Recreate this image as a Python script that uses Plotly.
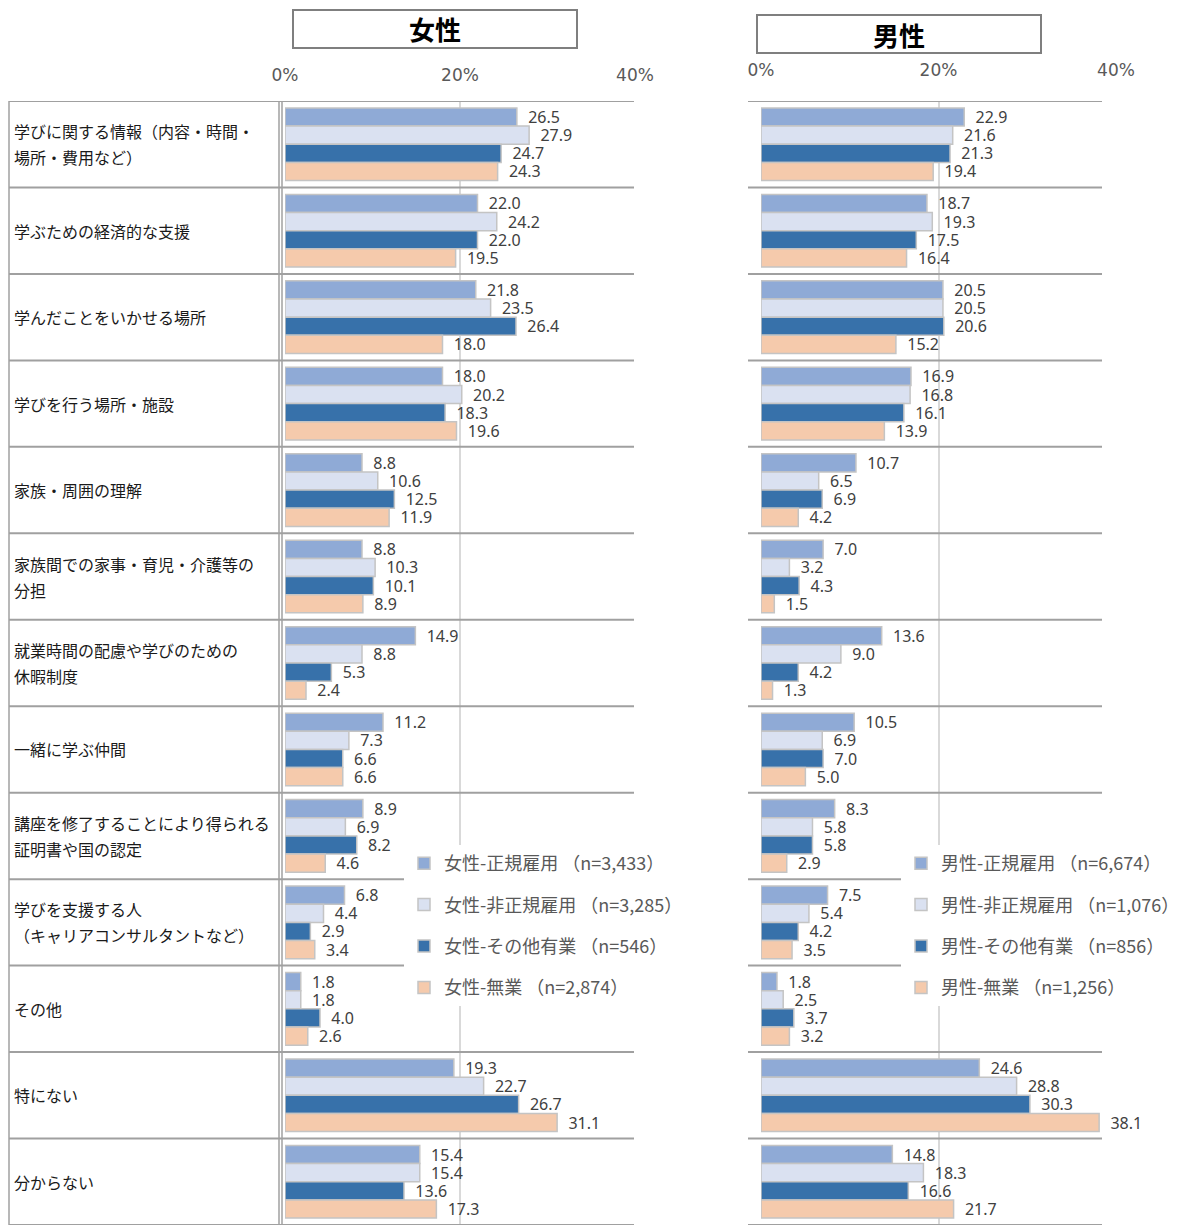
import plotly.graph_objects as go

# The page has an 8px body margin; the figure is sized to fill the rest of the window
OFF = 8
W, H = 1191 - OFF, 1225 - OFF


def px(x):
    return (x - OFF) / W


def py(y):
    return 1 - (y - OFF) / H


categories = [
    "学びに関する情報（内容・時間・\n場所・費用など）",
    "学ぶための経済的な支援",
    "学んだことをいかせる場所",
    "学びを行う場所・施設",
    "家族・周囲の理解",
    "家族間での家事・育児・介護等の\n分担",
    "就業時間の配慮や学びのための\n休暇制度",
    "一緒に学ぶ仲間",
    "講座を修了することにより得られる\n証明書や国の認定",
    "学びを支援する人\n（キャリアコンサルタントなど）",
    "その他",
    "特にない",
    "分からない",
]

female_names = [
    "女性-正規雇用 （n=3,433）",
    "女性-非正規雇用 （n=3,285）",
    "女性-その他有業 （n=546）",
    "女性-無業 （n=2,874）",
]
male_names = [
    "男性-正規雇用 （n=6,674）",
    "男性-非正規雇用 （n=1,076）",
    "男性-その他有業 （n=856）",
    "男性-無業 （n=1,256）",
]

female_regular = [26.5, 22.0, 21.8, 18.0, 8.8, 8.8, 14.9, 11.2, 8.9, 6.8, 1.8, 19.3, 15.4]
female_nonregular = [27.9, 24.2, 23.5, 20.2, 10.6, 10.3, 8.8, 7.3, 6.9, 4.4, 1.8, 22.7, 15.4]
female_other = [24.7, 22.0, 26.4, 18.3, 12.5, 10.1, 5.3, 6.6, 8.2, 2.9, 4.0, 26.7, 13.6]
female_none = [24.3, 19.5, 18.0, 19.6, 11.9, 8.9, 2.4, 6.6, 4.6, 3.4, 2.6, 31.1, 17.3]

male_regular = [22.9, 18.7, 20.5, 16.9, 10.7, 7.0, 13.6, 10.5, 8.3, 7.5, 1.8, 24.6, 14.8]
male_nonregular = [21.6, 19.3, 20.5, 16.8, 6.5, 3.2, 9.0, 6.9, 5.8, 5.4, 2.5, 28.8, 18.3]
male_other = [21.3, 17.5, 20.6, 16.1, 6.9, 4.3, 4.2, 7.0, 5.8, 4.2, 3.7, 30.3, 16.6]
male_none = [19.4, 16.4, 15.2, 13.9, 4.2, 1.5, 1.3, 5.0, 2.9, 3.5, 3.2, 38.1, 21.7]

tick_vals = [0, 20, 40]
tick_text = ["0%", "20%", "40%"]

colors = ["#8FAAD6", "#DAE1F1", "#3771AA", "#F5CAAC"]
BORDER = "#C4C4C4"
CJK = "Noto Sans CJK JP"

keys = [c.replace("\n", "") for c in categories]

fig = go.Figure()

female_series = [female_regular, female_nonregular, female_other, female_none]
male_series = [male_regular, male_nonregular, male_other, male_none]

label_font = dict(family="Noto Sans", size=16, color="#404040")

for i, (name, vals) in enumerate(zip(female_names, female_series)):
    fig.add_trace(go.Bar(
        y=keys, x=vals, orientation="h", name=name,
        marker=dict(color=colors[i], line=dict(color=BORDER, width=1.5)),
        texttemplate="\u00a0\u00a0%{x:.1f}", textposition="outside",
        textfont=label_font, cliponaxis=False, constraintext="none",
        xaxis="x", yaxis="y", legend="legend", legendgroup="f%d" % i,
        hoverinfo="skip",
    ))

for i, (name, vals) in enumerate(zip(male_names, male_series)):
    fig.add_trace(go.Bar(
        y=keys, x=vals, orientation="h", name=name,
        marker=dict(color=colors[i], line=dict(color=BORDER, width=1.5)),
        texttemplate="\u00a0\u00a0%{x:.1f}", textposition="outside",
        textfont=label_font, cliponaxis=False, constraintext="none",
        xaxis="x2", yaxis="y2", legend="legend2", legendgroup="m%d" % i,
        hoverinfo="skip",
    ))

ytop = py(101)
axis_common = dict(
    range=[0, 40], side="top", tickvals=tick_vals, ticktext=tick_text,
    showgrid=True, gridcolor="#D9D9D9", gridwidth=1.5, zeroline=False,
    showline=False, ticks="outside", tickcolor="rgba(0,0,0,0)",
    tickfont=dict(family="DejaVu Sans", size=17, color="#595959"),
    fixedrange=True,
)
yaxis_common = dict(
    type="category", categoryarray=keys, categoryorder="array",
    range=[len(keys) - 0.5, -0.5], domain=[0, ytop],
    showticklabels=False, showgrid=False, zeroline=False, showline=False,
    ticks="", fixedrange=True,
)

legend_common = dict(
    y=py(845), xanchor="left", yanchor="top",
    bgcolor="white", borderwidth=0, tracegroupgap=15,
    font=dict(family=CJK, size=18, color="#595959"),
    traceorder="grouped",
)

fig.update_layout(
    width=W, height=H,
    margin=dict(l=0, r=0, t=0, b=0, autoexpand=False),
    paper_bgcolor="white", plot_bgcolor="white",
    barmode="group", bargap=0.16, bargroupgap=0,
    font=dict(family=CJK, color="#000000"),
    xaxis=dict(domain=[px(285), px(635)], anchor="y", ticklen=12, **axis_common),
    yaxis=dict(anchor="x", **yaxis_common),
    xaxis2=dict(domain=[px(761), px(1116)], anchor="y2", ticklen=17, **axis_common),
    yaxis2=dict(anchor="x2", **yaxis_common),
    legend=dict(x=px(404), **legend_common),
    legend2=dict(x=px(901), **legend_common),
)

shapes = []
SEP = "#A0A0A0"
for k in range(len(keys) + 1):
    yv = k - 0.5
    shapes.append(dict(type="line", xref="paper", yref="y", x0=px(9), x1=px(634),
                       y0=yv, y1=yv, line=dict(color=SEP, width=2), layer="above"))
    shapes.append(dict(type="line", xref="paper", yref="y2", x0=px(748), x1=px(1102),
                       y0=yv, y1=yv, line=dict(color=SEP, width=2), layer="above"))
for xv in [9, 279, 282]:
    shapes.append(dict(type="line", xref="paper", yref="paper", x0=px(xv), x1=px(xv),
                       y0=0, y1=ytop, line=dict(color=SEP, width=1.5), layer="above"))
# title boxes
shapes.append(dict(type="rect", xref="paper", yref="paper", x0=px(293), x1=px(577),
                   y0=py(48), y1=py(10), line=dict(color="#7F7F7F", width=2),
                   fillcolor="white"))
shapes.append(dict(type="rect", xref="paper", yref="paper", x0=px(757), x1=px(1041),
                   y0=py(53), y1=py(15), line=dict(color="#7F7F7F", width=2),
                   fillcolor="white"))
fig.update_layout(shapes=shapes)

annotations = [
    dict(text="<b>女性</b>", xref="paper", yref="paper", x=px(435), y=py(29),
         showarrow=False, font=dict(family=CJK, size=26, color="#000000"),
         xanchor="center", yanchor="middle"),
    dict(text="<b>男性</b>", xref="paper", yref="paper", x=px(899), y=py(34),
         showarrow=False, font=dict(family=CJK, size=26, color="#000000"),
         xanchor="center", yanchor="middle"),
]
for key, label in zip(keys, categories):
    lines = label.split("\n")
    n = len(lines)
    for j, line in enumerate(lines):
        annotations.append(dict(
            text=line, xref="paper", yref="y", x=px(12), y=key,
            xanchor="left", yanchor="middle", align="left", showarrow=False,
            yshift=((n - 1) / 2 - j) * 26,
            font=dict(family=CJK, size=16, color="#1A1A1A"),
        ))
fig.update_layout(annotations=annotations)

fig.write_html("out.html")
